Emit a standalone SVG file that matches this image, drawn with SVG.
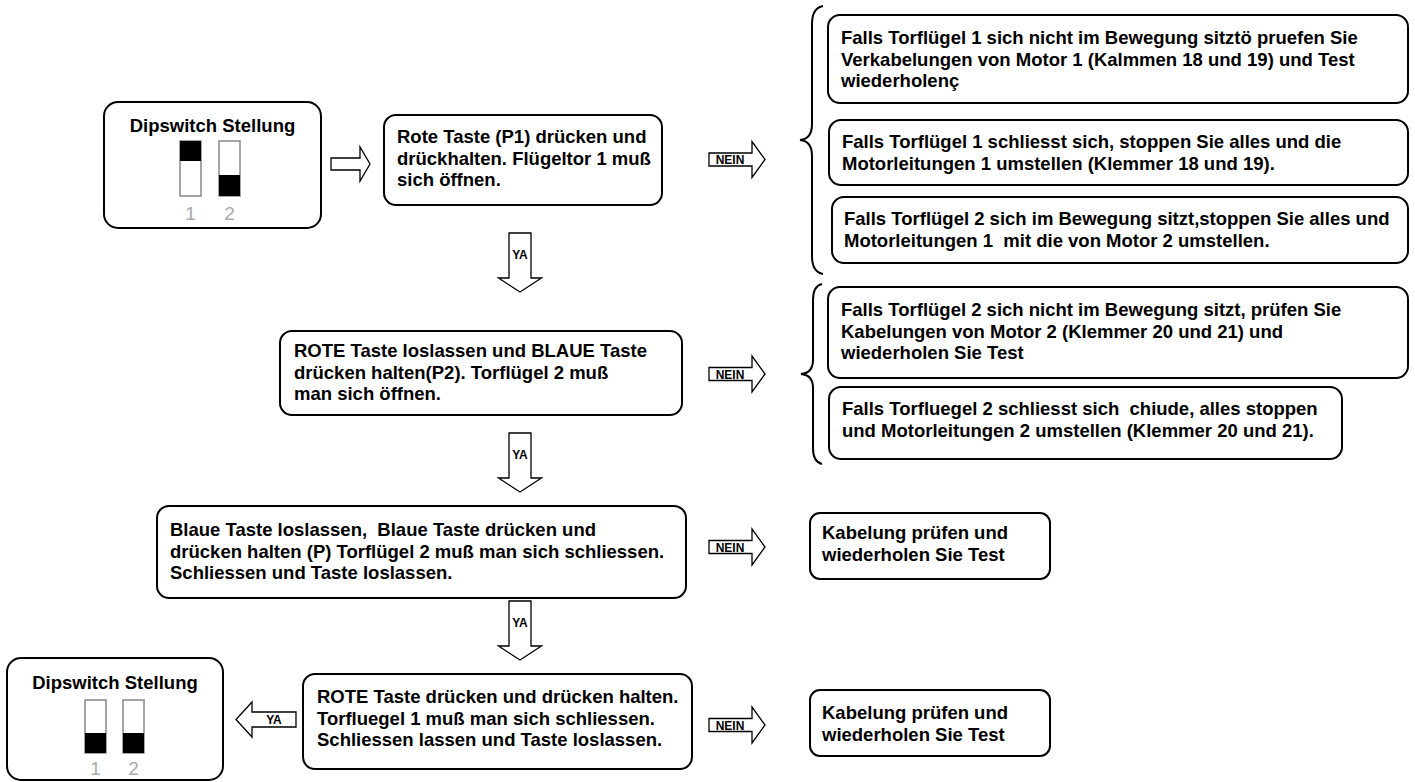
<svg xmlns="http://www.w3.org/2000/svg" width="1415" height="782" viewBox="0 0 1415 782">
<style>
.box{fill:#fff;stroke:#000;stroke-width:2}
.t{font-family:"Liberation Sans",Arial,sans-serif;font-weight:bold;font-size:18.5px;fill:#000;white-space:pre}
.title{font-family:"Liberation Sans",Arial,sans-serif;font-weight:bold;font-size:18.5px;fill:#000;text-anchor:middle}
.sw{fill:#fff;stroke:#888;stroke-width:1.5}
.swk{fill:#000}
.dg{font-family:"Liberation Sans",Arial,sans-serif;font-size:19px;fill:#aaa;text-anchor:middle}
.arr{fill:#fff;stroke:#000;stroke-width:1.3}
.lbl{font-family:"Liberation Sans",Arial,sans-serif;font-weight:bold;font-size:12px;fill:#000;text-anchor:middle}
.brace{fill:none;stroke:#000;stroke-width:2}
</style>
<defs>
<polygon id="nein" class="arr" points="0,-6.5 43,-6.5 43,-18 56,0 43,18 43,6.5 0,6.5"/>
<polygon id="down" class="arr" points="-11,0 11,0 11,45 21.5,45 0,59 -21.5,45 -11,45"/>
</defs>
<rect width="1415" height="782" fill="#fff"/>

<g id="dip1">
<rect class="box" x="104" y="102" width="217" height="126" rx="14"/>
<text class="title" x="212.5" y="132">Dipswitch Stellung</text>
<rect class="sw" x="180" y="141" width="21" height="55"/>
<rect class="swk" x="180" y="141" width="21" height="20"/>
<rect class="sw" x="219" y="141" width="21" height="55"/>
<rect class="swk" x="219" y="175" width="21" height="21"/>
<text class="dg" x="190.5" y="220">1</text>
<text class="dg" x="229.5" y="220">2</text>
</g>

<g id="step1">
<rect class="box" x="384" y="115" width="278" height="90" rx="12"/>
<text class="t" x="397" y="143">Rote Taste (P1) drücken und</text>
<text class="t" x="397" y="164.5">drückhalten. Flügeltor 1 muß</text>
<text class="t" x="397" y="186">sich öffnen.</text>
</g>

<g id="err1a">
<rect class="box" x="828" y="15" width="580" height="88" rx="12"/>
<text class="t" x="841" y="44">Falls Torflügel 1 sich nicht im Bewegung sitztö pruefen Sie</text>
<text class="t" x="841" y="65.5">Verkabelungen von Motor 1 (Kalmmen 18 und 19) und Test</text>
<text class="t" x="841" y="87">wiederholenç</text>
</g>
<g id="err1b">
<rect class="box" x="829" y="120" width="579" height="65" rx="12"/>
<text class="t" x="842" y="148">Falls Torflügel 1 schliesst sich, stoppen Sie alles und die</text>
<text class="t" x="842" y="169.5">Motorleitungen 1 umstellen (Klemmer 18 und 19).</text>
</g>
<g id="err1c">
<rect class="box" x="832" y="197" width="576" height="66" rx="12"/>
<text class="t" x="844" y="225">Falls Torflügel 2 sich im Bewegung sitzt,stoppen Sie alles und</text>
<text class="t" x="844" y="246.5">Motorleitungen 1  mit die von Motor 2 umstellen.</text>
</g>

<g id="step2">
<rect class="box" x="280" y="331" width="402" height="84" rx="12"/>
<text class="t" x="294" y="357">ROTE Taste loslassen und BLAUE Taste</text>
<text class="t" x="294" y="378.5">drücken halten(P2). Torflügel 2 muß</text>
<text class="t" x="294" y="400">man sich öffnen.</text>
</g>

<g id="err2a">
<rect class="box" x="828" y="287" width="580" height="91" rx="12"/>
<text class="t" x="841" y="316">Falls Torflügel 2 sich nicht im Bewegung sitzt, prüfen Sie</text>
<text class="t" x="841" y="337.5">Kabelungen von Motor 2 (Klemmer 20 und 21) und</text>
<text class="t" x="841" y="359">wiederholen Sie Test</text>
</g>
<g id="err2b">
<rect class="box" x="829" y="387" width="513" height="72" rx="12"/>
<text class="t" x="842" y="415">Falls Torfluegel 2 schliesst sich  chiude, alles stoppen</text>
<text class="t" x="842" y="436.5">und Motorleitungen 2 umstellen (Klemmer 20 und 21).</text>
</g>

<g id="step3">
<rect class="box" x="157" y="506" width="529" height="92" rx="12"/>
<text class="t" x="170" y="536">Blaue Taste loslassen,  Blaue Taste drücken und</text>
<text class="t" x="170" y="557.5">drücken halten (P) Torflügel 2 muß man sich schliessen.</text>
<text class="t" x="170" y="579">Schliessen und Taste loslassen.</text>
</g>

<g id="err3">
<rect class="box" x="810" y="513" width="240" height="66" rx="10"/>
<text class="t" x="822" y="539">Kabelung prüfen und</text>
<text class="t" x="822" y="560.5">wiederholen Sie Test</text>
</g>

<g id="step4">
<rect class="box" x="303" y="674" width="389" height="95" rx="12"/>
<text class="t" x="317" y="703">ROTE Taste drücken und drücken halten.</text>
<text class="t" x="317" y="724.5">Torfluegel 1 muß man sich schliessen.</text>
<text class="t" x="317" y="746">Schliessen lassen und Taste loslassen.</text>
</g>

<g id="err4">
<rect class="box" x="810" y="690" width="240" height="66" rx="10"/>
<text class="t" x="822" y="719">Kabelung prüfen und</text>
<text class="t" x="822" y="740.5">wiederholen Sie Test</text>
</g>

<g id="dip2">
<rect class="box" x="7" y="658" width="216" height="122" rx="14"/>
<text class="title" x="115" y="689">Dipswitch Stellung</text>
<rect class="sw" x="85" y="700" width="21" height="53"/>
<rect class="swk" x="85" y="733" width="21" height="20"/>
<rect class="sw" x="123" y="700" width="21" height="53"/>
<rect class="swk" x="123" y="733" width="21" height="20"/>
<text class="dg" x="95.5" y="775">1</text>
<text class="dg" x="133.5" y="775">2</text>
</g>

<g id="connectors">
<polygon class="arr" points="331,158 360,158 360,147 370,164 360,181 360,170 331,170"/>
<use href="#nein" x="709" y="159.5"/>
<text class="lbl" x="730" y="164">NEIN</text>
<use href="#nein" x="709" y="374"/>
<text class="lbl" x="730" y="378.5">NEIN</text>
<use href="#nein" x="709" y="547"/>
<text class="lbl" x="730" y="551.5">NEIN</text>
<use href="#nein" x="709" y="725"/>
<text class="lbl" x="730" y="729.5">NEIN</text>
<use href="#down" x="520" y="233"/>
<text class="lbl" x="520" y="259">YA</text>
<use href="#down" x="520" y="433"/>
<text class="lbl" x="520" y="459">YA</text>
<use href="#down" x="520" y="601"/>
<text class="lbl" x="520" y="627">YA</text>
<polygon class="arr" points="296,712 252,712 252,702 236,719.5 252,737 252,727 296,727"/>
<text class="lbl" x="274" y="724">YA</text>
<path class="brace" d="M823,6 Q812,8 812,24 L812,124 Q812,139 800,140 Q812,141 812,156 L812,256 Q812,272 823,274"/>
<path class="brace" d="M822,284 Q813,286 813,300 L813,360 Q813,373 801,374 Q813,375 813,388 L813,448 Q813,462 822,464"/>
</g>
</svg>
